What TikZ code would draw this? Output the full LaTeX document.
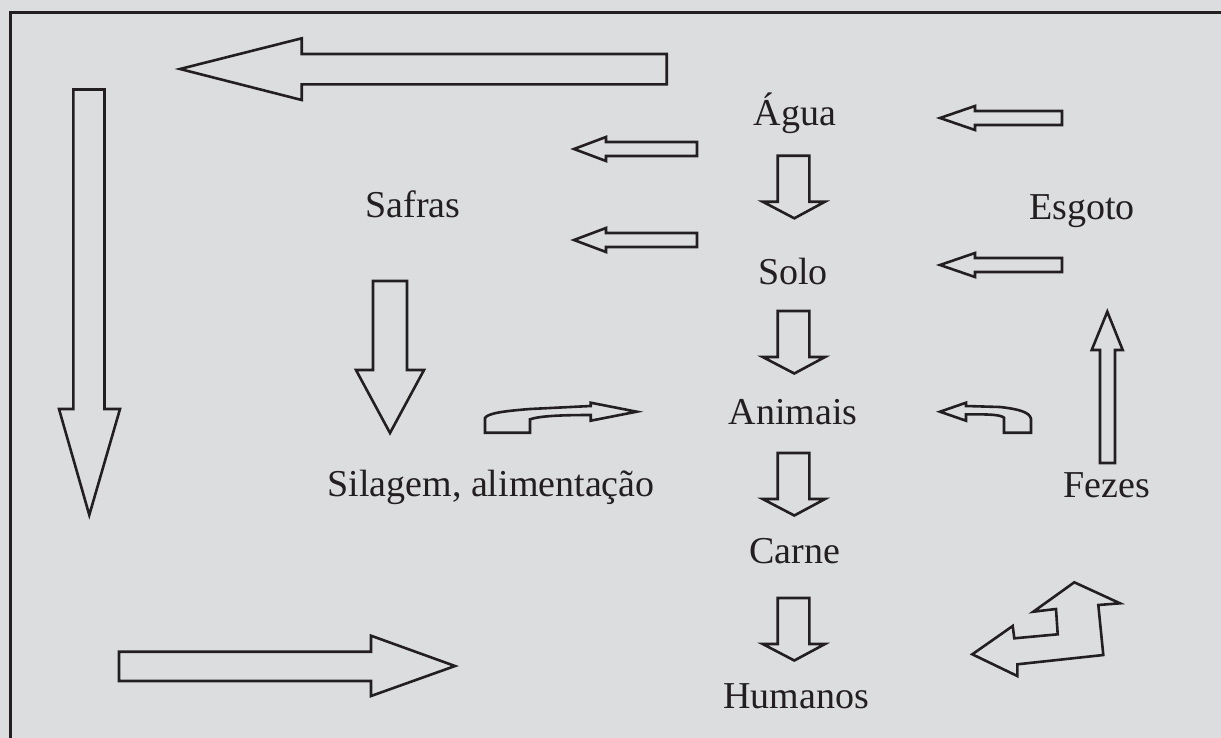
\documentclass[tikz,border=0pt]{standalone}
\usepackage{fontspec}
\setmainfont{Liberation Serif}
\definecolor{bg}{HTML}{DCDDDF}
\definecolor{ink}{HTML}{231F20}
\begin{document}
\begin{tikzpicture}[x=1pt,y=-1pt,
  blk/.style={draw=ink,line width=2.6pt,line join=miter,fill=bg},
  lbl/.style={font=\fontsize{38}{40}\selectfont,text=ink,inner sep=0pt,anchor=base}]
\useasboundingbox (0,0) rectangle (1221,737);
\fill[bg] (-10,-10) rectangle (1240,750);
\draw[ink,line width=2.6pt] (10.5,750) -- (10.5,12.5) -- (1240,12.5);

% texts
\node[lbl] (agua) at (795,125) {Água};
\node[lbl] (safras) at (413,217) {Safras};
\node[lbl] (esgoto) at (1082,219) {Esgoto};
\node[lbl] (solo) at (793,284) {Solo};
\node[lbl] (animais) at (793,424) {Animais};
\node[lbl] (silagem) at (491,496) {Silagem, alimentação};
\node[lbl] (fezes) at (1107,497) {Fezes};
\node[lbl] (carne) at (795,563) {Carne};
\node[lbl] (humanos) at (796,708) {Humanos};

% big arrows
\draw[blk] (180,69) -- (301.7,38.3) -- (301.7,54) -- (666.7,54) -- (666.7,84.3) -- (301.7,84.3) -- (301.7,100) -- cycle;
\draw[blk] (89.3,515) -- (59,409) -- (73.3,409) -- (73.3,89.5) -- (104.5,89.5) -- (104.5,409) -- (120,409) -- cycle;
\draw[blk] (455,666) -- (371,635.7) -- (371,651.7) -- (119,651.7) -- (119,681) -- (371,681) -- (371,696) -- cycle;

% small left arrows
\foreach \y in {149,240}{
  \draw[blk] (574,\y) -- (606,\y-12) -- (606,\y-7) -- (697,\y-7) -- (697,\y+7) -- (606,\y+7) -- (606,\y+12) -- cycle;
}
\foreach \y in {118,265}{
  \draw[blk] (940,\y) -- (975,\y-12) -- (975,\y-7) -- (1062,\y-7) -- (1062,\y+7) -- (975,\y+7) -- (975,\y+12) -- cycle;
}

% central down arrows
\foreach \t/\s/\b in {155.7/201.7/218.3, 311/357/373.5, 453/499/515.5, 598/644/660.5}{
  \draw[blk] (794.3,\b) -- (762.7,\s) -- (777.7,\s) -- (777.7,\t) -- (809.3,\t) -- (809.3,\s) -- (825,\s) -- cycle;
}

% Safras down arrow
\draw[blk] (390,433) -- (356,370) -- (373,370) -- (373,281) -- (407,281) -- (407,370) -- (424,370) -- cycle;

% Fezes up arrow
\draw[blk] (1107.3,311.7) -- (1122.7,350) -- (1115,350) -- (1115,463) -- (1100,463) -- (1100,350) -- (1091.7,350) -- cycle;

% curved arrow left
\draw[blk] (636.7,411.7) -- (590.7,402.7) -- (590.7,406) -- (530,409)
  .. controls (505,411) and (488,413) .. (485,418) -- (485,432.7) -- (530,432.7) -- (530,419.3)
  .. controls (540,416) and (560,415) .. (590.7,415) -- (590.7,420.7) -- cycle;

% curved arrow right
\draw[blk] (940,411.7) -- (966,402.7) -- (966,406) -- (1000,407)
  .. controls (1018,409) and (1030,412) .. (1031,419) -- (1031,432.7) -- (1004,432.7) -- (1004,417.7)
  .. controls (1000,414.5) and (990,414.3) .. (966,414.3) -- (966,420.7) -- cycle;

% zigzag arrow
\draw[blk] (972.3,654.3) -- (1012.7,626) -- (1014.3,638.3) -- (1057.7,634.3) -- (1056,609) -- (1033.3,611.7)
  -- (1074.3,582.3) -- (1120,603.3) -- (1098.3,605) -- (1103.3,655) -- (1017.3,664.3) -- (1017.3,676) -- cycle;
\end{tikzpicture}
\end{document}
